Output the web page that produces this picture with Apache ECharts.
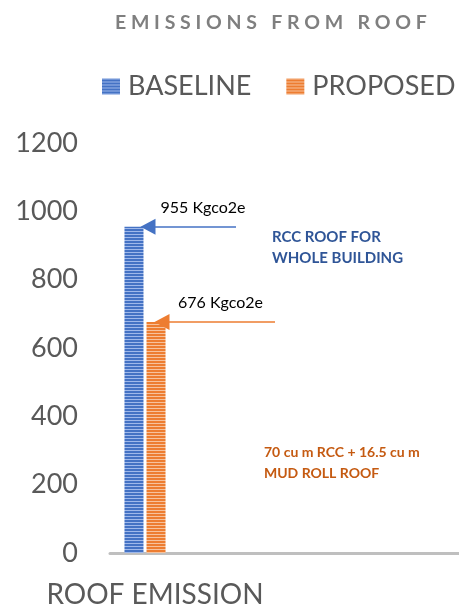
<!DOCTYPE html>
<html>
<head>
<meta charset="utf-8">
<script src="https://cdn.jsdelivr.net/npm/echarts@6/dist/echarts.min.js"></script>
<style>
  html, body { margin: 0; padding: 0; background: #ffffff; }
  #chart { width: 459px; height: 609px; }
</style>
</head>
<body>
<div id="chart"></div>
<script>
// Roof emissions: baseline vs proposed (kg CO2e)
const categories = ['ROOF EMISSION'];
const seriesNames = ['BASELINE', 'PROPOSED'];
const baseline = [955];
const proposed = [676];
const yTicks = [0, 200, 400, 600, 800, 1000, 1200];
const baselineNote = ['RCC ROOF FOR', 'WHOLE BUILDING'];
const proposedNote = ['70 cu m RCC + 16.5 cu m', 'MUD ROLL ROOF'];
const unit = 'Kgco2e';

const FONT = 'Lato, "Open Sans", sans-serif';

// Horizontal-stripe fill used for both bars
function stripes(dark, light) {
  const c = document.createElement('canvas');
  c.width = 4; c.height = 3;
  const g = c.getContext('2d');
  g.fillStyle = dark; g.fillRect(0, 0, 4, 3);
  g.fillStyle = light; g.fillRect(0, 0, 4, 1);
  return { image: c, repeat: 'repeat' };
}
const blueFill = stripes('#4472c4', '#9fb8ea');
const orangeFill = stripes('#ed7d31', '#f7c29c');

// Pointer arrow from the right towards the top of a bar, with its value above
function arrowLine(value, xTip, xEnd, color, labelPad) {
  return {
    silent: true,
    symbol: ['triangle', 'none'],
    symbolSize: [16, 15],
    lineStyle: { color: color, width: 1.5, type: 'solid' },
    label: {
      show: true,
      position: 'middle',
      formatter: value + ' ' + unit,
      fontSize: 16,
      fontFamily: FONT,
      color: '#000000',
      distance: 11,
      padding: labelPad
    },
    data: [[
      { coord: [0, value], x: xTip },
      { coord: [0, value], x: xEnd }
    ]]
  };
}

const chart = echarts.init(document.getElementById('chart'), null, { renderer: 'canvas' });
chart.setOption({
  animation: false,
  backgroundColor: '#ffffff',
  title: {
    text: 'E M I S S I O N S   F R O M   R O O F',
    left: 110,
    top: 8,
    textStyle: { fontSize: 19.5, fontWeight: 'bold', color: '#7f7f7f', fontFamily: FONT }
  },
  legend: {
    data: seriesNames,
    left: 102,
    right: 0,
    top: 73,
    padding: 0,
    itemWidth: 18,
    itemHeight: 16,
    itemGap: 35,
    icon: 'rect',
    textStyle: { fontSize: 27, color: '#595959', fontFamily: FONT, padding: [0, 0, 0, 3] }
  },
  grid: [
    { left: 110, top: 143, bottom: 56, width: 70 },
    { left: 110, top: 143, bottom: 56, right: 0 }
  ],
  xAxis: [
    {
      type: 'category',
      gridIndex: 0,
      data: categories,
      axisLine: { show: false },
      axisTick: { show: false },
      axisLabel: {
        fontSize: 28, color: '#595959', fontFamily: FONT,
        margin: 28, padding: [0, 0, 0, 20]
      }
    },
    {
      type: 'value',
      gridIndex: 1,
      min: 0, max: 1,
      axisLine: { show: true, onZero: false, lineStyle: { color: '#bfbfbf', width: 3 } },
      axisTick: { show: false },
      axisLabel: { show: false },
      splitLine: { show: false }
    }
  ],
  yAxis: [
    {
      type: 'value',
      gridIndex: 0,
      min: yTicks[0],
      max: yTicks[yTicks.length - 1],
      interval: yTicks[1] - yTicks[0],
      axisLine: { show: false },
      axisTick: { show: false },
      splitLine: { show: false },
      axisLabel: {
        fontSize: 27, color: '#595959', fontFamily: FONT, margin: 32,
        formatter: v => String(v)
      }
    },
    {
      type: 'value',
      gridIndex: 1,
      min: 0, max: 1,
      show: false
    }
  ],
  series: [
    {
      name: seriesNames[0],
      type: 'bar',
      xAxisIndex: 0, yAxisIndex: 0,
      data: baseline,
      barWidth: 19,
      barGap: '16%',
      itemStyle: { color: blueFill },
      markLine: arrowLine(baseline[0], 148, 236, '#4472c4', [0, 0, 0, 22])
    },
    {
      name: seriesNames[1],
      type: 'bar',
      xAxisIndex: 0, yAxisIndex: 0,
      data: proposed,
      barWidth: 19,
      itemStyle: { color: orangeFill },
      markLine: arrowLine(proposed[0], 162, 275, '#ed7d31', [0, 0, 0, 4])
    }
  ],
  graphic: [
    {
      type: 'text', left: 272, top: 227,
      style: {
        text: baselineNote.join('\n'),
        fontSize: 15, fontWeight: 'bold', fontFamily: FONT,
        fill: '#2f5597', lineHeight: 21
      }
    },
    {
      type: 'text', left: 264, top: 442,
      style: {
        text: proposedNote.join('\n'),
        fontSize: 14, fontWeight: 'bold', fontFamily: FONT,
        fill: '#c55a11', lineHeight: 21
      }
    }
  ]
});
</script>
</body>
</html>
